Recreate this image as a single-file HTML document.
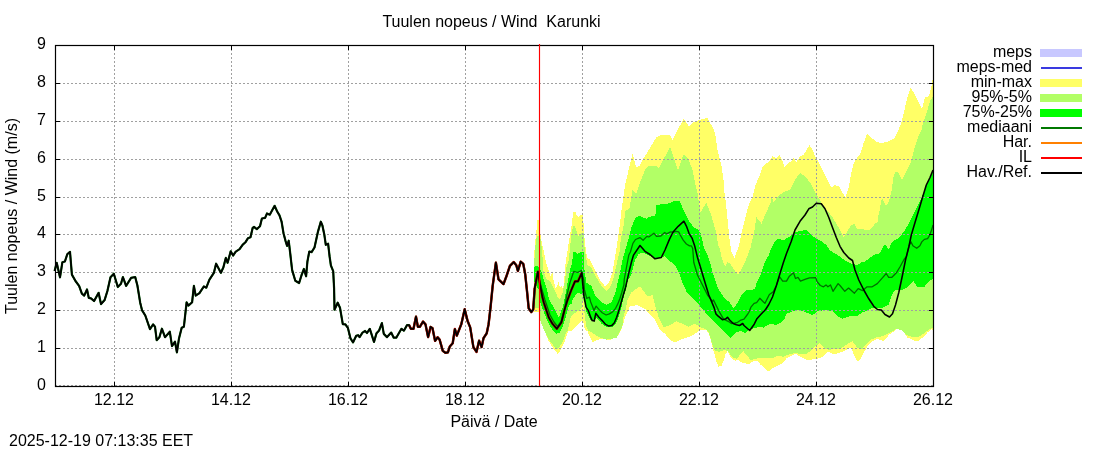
<!DOCTYPE html>
<html><head><meta charset="utf-8"><title>Tuulen nopeus / Wind Karunki</title>
<style>html,body{margin:0;padding:0;background:#fff}svg{display:block}text{font-family:"Liberation Sans",sans-serif;font-size:16px;fill:#000}</style>
</head><body>
<svg width="1100" height="450" viewBox="0 0 1100 450" style="will-change:transform">
<rect width="1100" height="450" fill="#fff"/>
<g shape-rendering="crispEdges">
<polygon points="533.7,261.0 535.0,243.3 536.7,227.8 537.2,220.5 539.0,220.0 540.6,235.6 542.2,244.4 543.9,252.2 545.6,260.0 546.0,262.6 548.5,270.3 550.5,276.0 552.4,272.8 553.6,280.5 555.5,288.1 557.5,285.5 558.7,281.7 560.0,288.1 561.3,285.5 563.2,289.0 564.2,280.5 565.1,267.7 566.1,260.0 567.8,248.9 569.4,238.9 571.1,228.9 572.2,221.1 573.1,212.2 575.6,212.2 576.7,215.6 578.3,217.2 580.6,215.0 582.2,214.4 583.3,217.8 583.9,232.2 585.0,243.3 586.1,252.2 587.2,257.8 590.0,259.5 596.3,272.5 600.0,280.0 605.0,286.3 608.8,282.5 612.5,272.5 615.0,257.5 618.8,232.5 621.3,212.0 625.0,185.0 628.0,172.5 632.5,153.8 636.3,167.5 640.0,165.5 642.5,160.0 648.8,150.0 656.3,137.5 662.5,134.5 670.0,134.5 672.5,140.0 678.8,127.5 683.8,118.8 688.8,126.3 695.0,121.3 701.3,119.5 707.5,118.0 711.3,125.0 715.0,132.5 717.5,150.0 721.3,165.0 723.8,182.5 724.5,193.0 725.9,202.7 727.8,221.8 729.7,240.9 731.5,252.0 734.5,258.5 736.5,252.0 738.6,247.0 741.8,232.0 744.4,221.8 747.5,209.1 750.7,200.2 752.5,197.5 755.5,185.0 758.8,177.5 762.5,167.5 765.0,163.8 768.8,162.0 772.5,156.3 776.3,158.0 779.5,155.0 782.0,160.0 784.5,167.0 787.5,163.8 791.3,161.3 793.8,157.0 796.3,162.5 800.0,156.3 803.8,154.5 809.5,145.0 812.5,150.0 816.3,158.8 818.8,162.0 822.5,170.0 826.3,177.5 831.3,187.5 835.0,185.0 838.8,186.3 842.5,192.5 845.5,197.0 848.8,187.5 851.3,172.5 853.8,163.0 857.5,157.0 860.0,155.0 863.8,142.5 867.0,133.8 871.3,137.5 876.3,142.0 881.3,143.0 887.5,142.0 893.8,138.8 897.5,132.5 901.3,122.5 905.0,107.5 908.0,95.0 910.5,88.0 913.8,92.5 917.5,100.0 922.0,108.8 925.0,97.5 928.8,96.3 931.3,87.5 932.2,82.0 933.5,75.5 933.0,330.0 931.3,328.8 927.5,332.5 922.5,337.5 917.5,341.3 912.5,340.0 907.5,337.5 902.5,330.0 897.5,328.8 893.8,331.3 888.8,335.0 883.8,341.3 877.5,338.8 872.5,341.3 867.5,346.3 863.8,352.5 860.0,360.0 857.5,361.3 853.8,355.0 851.3,347.5 846.3,350.0 840.0,352.5 836.2,353.7 832.4,353.7 828.5,351.8 825.4,353.7 822.2,356.9 817.1,358.8 812.0,359.5 805.6,359.5 800.5,356.9 795.5,353.7 790.4,356.3 786.5,358.2 784.0,362.0 780.2,364.5 776.4,366.5 772.5,368.4 769.4,370.9 766.2,370.3 763.6,367.1 760.5,364.5 757.3,360.7 753.5,360.7 749.6,363.9 744.5,363.3 740.7,362.0 738.2,360.1 735.0,360.7 731.8,358.8 729.3,354.4 727.4,351.2 725.5,354.4 723.5,360.7 721.6,365.8 718.5,366.5 716.5,362.0 714.6,354.4 712.7,348.0 710.8,340.4 708.9,334.0 706.4,330.2 700.0,330.2 697.5,332.0 690.0,336.8 682.5,338.8 676.3,342.0 671.3,341.3 665.0,333.8 660.0,330.0 655.0,320.0 650.0,315.0 645.0,308.8 637.5,305.0 630.0,306.3 625.0,317.5 621.3,330.0 617.5,336.3 610.0,340.0 602.5,338.8 596.3,340.0 592.5,342.5 587.5,331.3 584.8,329.3 583.5,323.0 581.6,321.0 579.7,322.9 577.2,325.5 574.0,328.0 572.1,330.5 568.3,330.5 566.4,336.9 564.5,342.0 561.9,347.1 559.4,352.2 557.5,353.5 554.9,350.9 551.7,345.8 547.9,339.5 544.1,329.3 540.3,316.5 539.5,312.3 533.7,311.5" fill="#ffff66"/>
<polygon points="533.7,264.0 534.4,260.0 535.6,243.3 536.7,236.7 537.8,235.8 539.4,235.8 540.6,238.9 541.7,247.8 542.8,260.0 543.1,269.5 546.0,278.1 550.5,282.4 553.0,286.8 555.5,291.9 557.5,297.0 560.0,298.9 562.5,293.2 563.8,286.8 565.1,279.2 566.4,267.7 568.9,260.0 570.0,246.7 571.1,237.8 572.2,230.0 573.3,226.1 575.0,226.4 576.1,230.0 577.2,233.3 578.3,236.7 580.6,233.9 582.2,232.8 583.6,233.3 583.9,235.6 584.4,246.7 585.6,254.4 586.4,260.0 587.5,265.0 591.3,267.5 595.0,275.0 600.0,283.8 606.3,291.3 610.0,287.5 613.8,277.5 617.5,260.0 619.5,252.0 620.8,239.5 623.4,226.8 625.3,211.5 629.7,207.7 631.6,195.0 632.5,190.0 636.3,193.8 640.0,182.5 645.0,170.0 648.8,165.5 656.3,165.5 658.8,168.8 663.8,158.8 670.0,147.0 673.8,157.5 678.0,170.0 683.8,153.8 688.8,160.0 692.5,170.0 695.0,182.5 697.3,192.0 698.5,200.0 700.5,212.0 702.0,210.0 706.2,202.7 708.5,208.0 711.3,215.5 714.0,225.0 716.4,233.3 718.0,245.0 720.0,249.0 721.0,255.0 724.2,265.2 725.5,266.5 727.4,262.0 729.9,263.3 733.1,268.4 736.3,272.8 738.2,274.1 740.7,270.3 743.3,265.2 745.8,260.1 747.7,255.0 750.7,247.0 753.9,233.3 756.5,217.4 759.0,220.5 761.5,223.7 764.1,217.4 767.3,210.4 770.5,202.7 771.7,196.4 773.6,202.7 776.8,197.6 780.0,194.5 785.0,191.3 790.0,190.0 795.0,180.0 800.0,173.0 805.0,176.3 810.0,182.5 815.0,192.5 820.0,200.0 825.1,208.8 828.9,212.6 832.7,217.7 836.5,224.1 840.4,230.5 843.5,237.5 845.5,234.3 848.6,229.2 851.8,224.7 854.4,224.1 856.9,228.5 862.0,229.2 868.4,230.5 871.5,227.9 874.7,224.1 877.9,221.5 878.8,212.6 880.0,210.0 881.1,200.0 882.8,199.4 885.0,204.4 886.7,205.6 888.9,201.1 891.1,193.3 892.8,182.2 893.9,174.4 895.6,172.2 898.3,172.2 900.0,175.6 902.0,179.8 904.4,175.6 906.7,171.1 908.9,166.7 911.1,161.1 911.9,158.0 913.8,150.4 915.7,144.0 917.6,138.9 919.5,133.8 921.5,130.0 922.5,125.0 926.3,113.8 930.0,101.3 933.0,96.3 933.0,327.5 930.0,328.8 925.0,332.5 920.0,336.3 915.0,337.5 910.0,336.3 905.0,333.8 901.3,330.0 896.3,328.8 892.5,331.3 887.5,333.8 882.5,336.3 876.3,337.5 870.0,340.0 866.3,343.8 862.5,348.8 857.5,348.0 852.5,341.3 847.5,343.8 842.5,347.5 840.0,348.6 834.9,348.6 829.8,349.9 824.7,348.6 822.2,345.5 819.6,342.9 814.5,347.4 809.5,351.8 805.6,354.4 799.3,353.7 794.2,353.1 787.8,355.0 782.7,356.9 778.9,355.6 773.8,357.5 766.2,358.2 758.5,358.2 754.7,358.8 750.9,360.7 747.1,355.6 743.3,351.2 740.1,354.4 736.9,358.8 731.8,356.9 728.6,351.8 725.5,349.9 719.1,351.8 714.6,350.5 712.7,345.5 710.8,339.1 708.9,332.7 705.1,328.9 700.0,327.0 695.0,323.5 688.8,326.8 682.5,323.8 676.3,321.3 670.0,325.0 663.8,327.5 658.8,317.5 655.0,305.0 652.5,295.0 647.5,296.3 643.8,291.3 640.0,286.3 636.3,288.8 631.3,292.5 627.5,300.0 626.8,303.8 625.5,310.2 623.6,316.5 622.4,325.5 620.5,330.5 618.5,334.4 616.6,337.5 611.5,338.8 606.5,339.5 601.4,338.2 597.5,336.3 594.4,334.4 591.2,331.8 588.0,330.5 586.1,325.5 584.8,316.5 583.6,301.0 582.6,301.0 581.6,307.6 579.1,310.2 575.9,312.7 573.4,314.0 570.8,316.5 568.9,325.5 567.6,330.5 565.7,333.1 563.2,340.7 561.3,343.9 558.7,348.4 556.2,349.0 553.6,345.8 550.5,342.0 547.3,336.9 544.1,330.5 542.2,325.5 540.0,319.1 539.0,308.2 533.7,307.5" fill="#b2ff66"/>
<polygon points="533.7,268.0 536.3,265.5 538.8,267.5 541.7,272.3 543.8,279.6 546.7,288.2 548.9,298.4 550.5,302.0 552.4,305.1 554.9,310.2 556.8,314.0 558.7,317.8 560.6,312.7 562.5,307.6 563.8,302.5 564.8,297.0 566.3,290.0 570.0,270.0 572.4,262.0 572.8,252.2 575.6,252.0 577.8,253.9 580.6,252.2 582.8,251.7 583.6,252.2 583.9,260.0 584.2,267.7 586.3,282.5 591.3,286.0 595.0,295.0 600.0,301.0 606.3,305.0 611.3,302.5 615.0,294.0 618.8,278.0 622.5,260.0 627.5,242.5 631.3,227.5 635.0,218.8 638.8,215.5 643.8,218.0 646.4,218.6 648.9,216.7 655.3,216.1 656.5,205.3 662.9,204.0 669.3,203.4 673.7,201.2 680.1,201.5 682.0,206.5 685.8,214.2 689.0,221.2 693.5,226.9 698.5,230.1 700.5,233.3 702.4,240.9 703.8,247.0 708.3,257.0 710.8,265.2 712.7,272.8 715.3,280.5 717.8,288.1 721.0,293.2 724.8,298.3 729.3,302.1 733.7,308.5 738.2,302.1 742.0,294.5 746.5,290.0 754.7,289.4 756.6,283.0 759.8,276.6 761.7,271.5 764.3,263.9 766.8,258.8 769.4,254.0 770.3,250.0 773.8,243.0 777.5,239.0 783.8,240.0 790.0,236.3 795.0,232.5 800.0,231.0 806.3,230.0 811.3,235.0 816.3,238.5 822.5,242.0 826.3,245.0 830.0,250.5 837.5,255.0 845.0,260.5 852.5,264.0 857.5,265.0 862.5,261.5 863.9,262.0 870.9,257.2 874.7,254.6 879.8,253.4 882.4,248.3 884.3,245.1 886.2,245.7 888.7,249.5 891.3,243.2 893.8,240.6 897.6,238.7 901.5,234.9 904.6,230.5 907.8,225.4 910.4,220.3 913.5,213.9 916.7,207.5 920.6,200.0 923.3,193.3 926.7,185.0 929.4,178.9 932.2,172.2 933.0,170.0 933.0,279.0 932.6,279.2 928.2,281.7 924.4,286.8 917.4,286.8 913.5,281.1 910.4,284.3 906.5,288.1 901.5,290.0 896.4,290.0 893.8,291.3 890.6,298.3 888.7,304.6 882.4,307.8 876.3,307.5 870.0,308.8 862.5,312.5 856.3,316.3 850.0,316.3 842.5,318.8 837.5,316.3 832.5,311.3 825.0,310.0 817.5,311.3 812.5,315.0 806.3,312.5 800.0,310.0 792.5,311.3 786.3,314.0 784.0,320.0 781.5,321.9 776.4,325.1 771.3,323.8 767.5,325.1 763.6,327.6 758.5,327.0 754.7,328.3 749.0,328.9 745.2,333.4 740.7,330.8 735.6,332.7 733.1,335.9 730.5,338.5 727.4,334.6 720.4,327.6 712.7,320.5 710.0,318.0 705.0,312.0 700.0,306.0 695.0,301.0 690.0,296.0 686.3,291.3 682.5,282.5 678.8,272.5 675.0,265.0 670.0,261.3 665.0,256.3 657.5,258.8 650.0,256.3 643.8,252.5 638.8,253.8 635.0,260.0 631.3,275.0 628.0,280.0 626.3,287.5 623.0,300.0 621.7,306.4 619.8,312.7 617.9,319.1 615.4,324.2 612.8,326.7 609.0,327.4 605.2,326.1 601.4,323.5 598.8,320.4 596.3,317.8 593.1,321.6 589.9,319.1 586.7,312.7 584.2,300.0 582.5,295.0 577.5,292.5 572.5,300.0 571.5,303.8 568.9,305.1 567.0,312.7 565.1,319.1 562.5,327.4 559.4,333.1 556.2,333.7 553.0,330.5 549.8,325.5 546.6,319.1 544.1,312.7 541.5,306.4 539.6,300.0 538.8,290.0 533.7,281.0" fill="#00ff00"/>
</g>
<path d="M55 385.5H934 M55 348.5H934 M55 310.5H934 M55 272.5H934 M55 234.5H934 M55 197.5H934 M55 159.5H934 M55 121.5H934 M55 83.5H934 M114.5 45V387 M231.5 45V387 M348.5 45V387 M465.5 45V387 M582.5 45V387 M699.5 45V387 M816.5 45V387" stroke="#a0a0a0" stroke-width="1" stroke-dasharray="2 2" fill="none" shape-rendering="crispEdges"/>
<polyline points="54.6,271.0 56.7,262.8 60.0,277.3 62.4,262.2 64.9,261.5 67.3,254.2 70.0,251.8 71.9,274.6 75.5,281.0 79.1,285.9 81.9,293.7 84.2,295.6 87.0,289.5 88.8,297.9 91.0,298.3 94.1,301.0 98.6,292.8 101.0,304.1 104.6,300.1 107.4,291.0 110.5,277.3 113.8,273.7 117.8,287.0 121.0,283.7 122.9,277.0 126.1,285.9 131.1,277.9 135.2,277.0 137.4,285.5 140.2,302.7 142.1,310.4 145.3,315.5 150.0,329.1 153.1,324.4 155.0,326.7 156.7,340.2 159.4,337.2 161.9,328.7 165.0,337.2 169.8,331.7 172.0,346.1 175.0,341.7 176.9,352.4 179.0,338.4 181.7,327.8 183.9,326.7 186.6,302.3 188.4,305.6 192.1,302.3 193.9,285.9 195.7,295.6 199.4,293.2 203.9,286.4 206.3,287.7 209.4,279.7 213.9,272.8 216.1,263.7 220.9,272.8 223.4,267.3 225.8,257.9 227.6,262.8 230.7,251.3 233.1,255.5 235.8,251.6 239.6,249.1 242.8,244.6 245.4,242.3 247.9,238.3 250.5,237.3 252.7,227.8 254.0,226.8 256.8,229.1 260.0,226.2 261.9,218.5 265.1,217.9 267.0,213.5 269.8,214.7 274.6,205.8 277.2,211.5 279.5,215.4 281.6,221.7 283.5,233.2 285.5,240.8 287.1,245.9 288.7,240.7 290.3,254.0 292.1,269.9 295.3,280.7 299.1,283.0 301.6,275.0 303.9,269.0 306.1,276.3 307.4,261.6 309.3,251.5 311.6,252.1 314.5,247.5 317.9,231.9 320.8,221.7 322.4,225.5 324.3,234.5 325.8,244.8 328.1,243.7 329.6,256.5 330.9,265.5 333.2,271.2 334.1,288.4 334.5,309.7 337.7,302.7 340.0,307.8 342.8,324.1 345.4,324.4 347.9,327.9 350.5,338.4 353.0,342.4 356.2,335.8 358.1,335.2 359.6,337.1 362.5,332.6 365.1,331.0 367.0,333.0 369.8,328.8 374.0,341.9 376.5,333.3 379.1,330.5 381.9,323.1 383.8,333.9 387.0,337.1 391.2,332.6 393.7,337.7 396.3,337.7 401.4,328.8 403.9,330.7 407.1,325.0 409.0,325.0 410.9,328.8 413.5,328.8 416.0,316.7 417.9,326.9 419.8,326.9 423.0,321.6 425.5,324.4 428.1,337.1 430.6,326.9 432.5,328.2 435.1,340.9 437.6,337.3 439.6,339.6 442.8,350.9 445.4,352.8 447.9,352.4 449.8,346.5 452.7,343.3 454.9,329.0 456.8,335.6 461.3,324.2 464.7,309.2 467.6,321.0 470.2,327.4 473.4,347.1 476.5,351.9 479.1,340.7 481.6,347.1 483.5,338.2 486.7,333.3 488.6,324.2 490.5,307.6 492.7,285.6 495.9,262.7 498.5,279.3 503.5,284.1 506.7,275.5 509.9,265.9 513.7,262.1 516.3,265.3 517.9,271.0 520.7,261.7 523.3,264.0 525.2,274.2 527.1,292.0 528.7,308.3 531.3,312.1 533.2,309.5 534.7,288.2" fill="none" stroke="#006400" stroke-width="2.2" stroke-linejoin="round"/>
<polyline points="409.0,325.0 410.9,328.8 413.5,328.8 416.0,316.7 417.9,326.9 419.8,326.9 423.0,321.6 425.5,324.4 428.1,337.1 430.6,326.9 432.5,328.2 435.1,340.9 437.6,337.3 439.6,339.6 442.8,350.9 445.4,352.8 447.9,352.4 449.8,346.5 452.7,343.3 454.9,329.0 456.8,335.6 461.3,324.2 464.7,309.2 467.6,321.0 470.2,327.4 473.4,347.1 476.5,351.9 479.1,340.7 481.6,347.1 483.5,338.2 486.7,333.3 488.6,324.2 490.5,307.6 492.7,285.6 495.9,262.7 498.5,279.3 503.5,284.1 506.7,275.5 509.9,265.9 513.7,262.1 516.3,265.3 517.9,271.0 520.7,261.7 523.3,264.0 525.2,274.2 527.1,292.0 528.7,308.3 531.3,312.1 533.2,309.5 534.7,288.2 537.9,271.6 539.8,283.1 542.4,297.1 543.8,302.5 548.8,317.5 552.5,323.8 556.8,328.8 561.3,322.5 565.0,308.0 567.5,300.0 571.3,290.0 575.0,281.3 578.0,281.3 581.8,272.8" fill="none" stroke="#d00000" stroke-width="2.4" stroke-linejoin="round"/>
<polyline points="534.7,288.2 537.9,272.5 540.0,283.0 545.0,300.0 550.0,315.0 554.0,322.0 557.5,326.5 561.5,321.0 565.0,308.0 566.3,297.5 570.0,282.5 573.8,271.3 577.5,272.5 581.3,270.5 583.8,280.0 584.4,289.4 586.7,298.3 589.4,297.2 590.6,301.7 592.8,307.2 593.9,310.6 596.1,306.1 598.9,309.4 602.2,312.8 606.1,315.0 609.4,313.9 612.8,311.7 615.6,308.3 617.8,303.9 620.0,298.3 621.7,292.8 623.9,285.0 624.3,279.0 628.8,255.0 630.4,252.0 632.9,243.4 635.5,239.5 639.9,237.6 643.1,240.2 646.9,236.4 648.8,237.0 653.9,233.2 656.5,236.4 660.9,236.0 664.7,232.5 666.6,233.8 670.5,231.9 673.6,232.2 676.2,231.3 678.7,231.9 680.6,235.7 683.2,240.2 686.4,244.0 689.5,245.9 691.5,245.9 692.7,248.5 693.8,262.5 697.5,275.0 702.5,285.0 707.5,295.0 712.5,301.3 713.5,300.0 716.6,306.4 719.8,312.7 723.6,319.1 728.7,321.6 731.3,323.5 735.1,322.9 737.6,322.3 740.2,320.4 744.0,319.1 747.8,314.0 749.0,312.0 750.9,307.2 754.1,303.4 756.6,302.7 759.8,298.3 764.9,303.4 769.4,294.5 773.2,291.9 776.4,285.5 779.5,276.6 782.7,281.1 786.5,281.1 789.1,276.6 793.5,272.8 795.5,278.5 798.0,277.3 800.5,281.1 805.6,279.2 809.5,277.9 815.8,277.7 817.1,281.7 820.3,285.5 823.5,286.8 826.0,284.9 827.9,286.8 830.5,284.9 833.0,291.3 838.1,283.6 840.0,285.5 844.8,291.3 848.6,288.1 854.4,293.2 858.2,288.7 862.6,290.6 867.1,286.8 872.2,286.8 877.3,283.6 882.4,277.9 886.2,273.5 888.7,277.3 891.9,277.3 896.4,272.8 900.2,266.5 904.0,259.5 906.5,256.3 909.0,246.0 911.0,241.9 912.9,245.7 916.7,248.3 919.9,245.7 921.8,241.9 924.4,239.4 927.6,238.7 929.5,235.5 931.4,230.5 932.6,226.6 933.0,225.0" fill="none" stroke="#007000" stroke-width="1.3" stroke-linejoin="round"/>
<polyline points="54.6,271.0 56.7,262.8 60.0,277.3 62.4,262.2 64.9,261.5 67.3,254.2 70.0,251.8 71.9,274.6 75.5,281.0 79.1,285.9 81.9,293.7 84.2,295.6 87.0,289.5 88.8,297.9 91.0,298.3 94.1,301.0 98.6,292.8 101.0,304.1 104.6,300.1 107.4,291.0 110.5,277.3 113.8,273.7 117.8,287.0 121.0,283.7 122.9,277.0 126.1,285.9 131.1,277.9 135.2,277.0 137.4,285.5 140.2,302.7 142.1,310.4 145.3,315.5 150.0,329.1 153.1,324.4 155.0,326.7 156.7,340.2 159.4,337.2 161.9,328.7 165.0,337.2 169.8,331.7 172.0,346.1 175.0,341.7 176.9,352.4 179.0,338.4 181.7,327.8 183.9,326.7 186.6,302.3 188.4,305.6 192.1,302.3 193.9,285.9 195.7,295.6 199.4,293.2 203.9,286.4 206.3,287.7 209.4,279.7 213.9,272.8 216.1,263.7 220.9,272.8 223.4,267.3 225.8,257.9 227.6,262.8 230.7,251.3 233.1,255.5 235.8,251.6 239.6,249.1 242.8,244.6 245.4,242.3 247.9,238.3 250.5,237.3 252.7,227.8 254.0,226.8 256.8,229.1 260.0,226.2 261.9,218.5 265.1,217.9 267.0,213.5 269.8,214.7 274.6,205.8 277.2,211.5 279.5,215.4 281.6,221.7 283.5,233.2 285.5,240.8 287.1,245.9 288.7,240.7 290.3,254.0 292.1,269.9 295.3,280.7 299.1,283.0 301.6,275.0 303.9,269.0 306.1,276.3 307.4,261.6 309.3,251.5 311.6,252.1 314.5,247.5 317.9,231.9 320.8,221.7 322.4,225.5 324.3,234.5 325.8,244.8 328.1,243.7 329.6,256.5 330.9,265.5 333.2,271.2 334.1,288.4 334.5,309.7 337.7,302.7 340.0,307.8 342.8,324.1 345.4,324.4 347.9,327.9 350.5,338.4 353.0,342.4 356.2,335.8 358.1,335.2 359.6,337.1 362.5,332.6 365.1,331.0 367.0,333.0 369.8,328.8 374.0,341.9 376.5,333.3 379.1,330.5 381.9,323.1 383.8,333.9 387.0,337.1 391.2,332.6 393.7,337.7 396.3,337.7 401.4,328.8 403.9,330.7 407.1,325.0 409.0,325.0 410.9,328.8 413.5,328.8 416.0,316.7 417.9,326.9 419.8,326.9 423.0,321.6 425.5,324.4 428.1,337.1 430.6,326.9 432.5,328.2 435.1,340.9 437.6,337.3 439.6,339.6 442.8,350.9 445.4,352.8 447.9,352.4 449.8,346.5 452.7,343.3 454.9,329.0 456.8,335.6 461.3,324.2 464.7,309.2 467.6,321.0 470.2,327.4 473.4,347.1 476.5,351.9 479.1,340.7 481.6,347.1 483.5,338.2 486.7,333.3 488.6,324.2 490.5,307.6 492.7,285.6 495.9,262.7 498.5,279.3 503.5,284.1 506.7,275.5 509.9,265.9 513.7,262.1 516.3,265.3 517.9,271.0 520.7,261.7 523.3,264.0 525.2,274.2 527.1,292.0 528.7,308.3 531.3,312.1 533.2,309.5 534.7,288.2 537.9,271.6 539.8,283.1 542.4,297.1 543.8,302.5 548.8,317.5 552.5,323.8 556.8,328.8 561.3,322.5 565.0,308.0 567.5,300.0 571.3,290.0 575.0,281.3 578.0,281.3 581.8,272.8 583.9,296.1" fill="none" stroke="#000" stroke-width="1.7" stroke-linejoin="round"/>
<polyline points="583.9,296.1 586.1,307.2 588.3,310.6 590.6,317.2 592.2,320.6 594.2,321.1 595.8,313.3 598.9,317.2 602.2,320.6 605.6,324.4 608.9,326.1 611.7,325.6 614.4,322.8 616.7,317.2 618.9,310.6 621.1,302.8 623.3,295.0 625.6,287.2 629.1,271.6 631.6,261.5 633.5,255.1 640.0,245.5 645.0,251.3 650.0,254.5 655.0,258.8 661.3,257.5 665.0,250.0 669.3,239.6 673.1,232.0 678.2,226.3 683.9,221.2 686.5,226.3 689.0,233.3 692.2,238.4 694.7,246.0 697.5,257.5 701.3,270.0 705.0,282.5 708.8,295.0 714.1,307.6 716.0,314.0 717.9,315.9 722.4,319.7 725.5,319.1 727.5,317.2 729.4,319.7 733.2,323.5 736.4,324.8 739.5,325.5 742.7,323.5 744.0,325.5 749.7,330.5 754.2,324.2 756.7,319.1 761.2,314.0 765.6,309.5 768.8,304.5 772.5,297.0 776.4,285.5 780.2,272.8 783.4,262.6 786.5,253.5 791.3,241.3 795.0,230.0 800.0,221.3 805.0,215.0 808.8,208.8 812.5,207.0 816.3,203.3 821.3,203.8 825.0,208.8 828.8,217.5 832.5,227.5 836.3,237.5 840.0,246.3 843.8,252.5 848.8,258.0 852.5,260.5 855.0,270.0 858.8,280.0 863.8,290.0 868.8,298.8 873.8,306.3 877.5,309.5 881.3,310.0 885.0,314.5 889.5,317.0 892.5,313.8 895.5,305.0 898.8,292.5 902.5,275.0 905.5,260.0 908.8,247.0 911.3,235.0 915.0,222.5 918.8,210.0 922.5,197.5 926.3,185.0 930.0,177.5 933.0,170.0" fill="none" stroke="#000" stroke-width="1.55" stroke-linejoin="round"/>
<path d="M55.5 348.5h4.5M933.5 348.5h-4.5 M55.5 310.5h4.5M933.5 310.5h-4.5 M55.5 272.5h4.5M933.5 272.5h-4.5 M55.5 234.5h4.5M933.5 234.5h-4.5 M55.5 197.5h4.5M933.5 197.5h-4.5 M55.5 159.5h4.5M933.5 159.5h-4.5 M55.5 121.5h4.5M933.5 121.5h-4.5 M55.5 83.5h4.5M933.5 83.5h-4.5 M114.5 386.5v-4.5M114.5 45.5v4.5 M231.5 386.5v-4.5M231.5 45.5v4.5 M348.5 386.5v-4.5M348.5 45.5v4.5 M465.5 386.5v-4.5M465.5 45.5v4.5 M582.5 386.5v-4.5M582.5 45.5v4.5 M699.5 386.5v-4.5M699.5 45.5v4.5 M816.5 386.5v-4.5M816.5 45.5v4.5 M933.5 386.5v-4.5M933.5 45.5v4.5" stroke="#000" stroke-width="1" fill="none" shape-rendering="crispEdges"/>
<rect x="55.5" y="45.5" width="878.0" height="341.0" fill="none" stroke="#000" stroke-width="1.2"/>
<path d="M539.5 44V386" stroke="#ff0000" stroke-width="1.15" fill="none"/>
<text x="491.5" y="27" text-anchor="middle" xml:space="preserve">Tuulen nopeus / Wind  Karunki</text>
<text x="46" y="390.1" text-anchor="end">0</text>
<text x="46" y="352.1" text-anchor="end">1</text>
<text x="46" y="314.1" text-anchor="end">2</text>
<text x="46" y="276.1" text-anchor="end">3</text>
<text x="46" y="238.1" text-anchor="end">4</text>
<text x="46" y="201.1" text-anchor="end">5</text>
<text x="46" y="163.1" text-anchor="end">6</text>
<text x="46" y="125.1" text-anchor="end">7</text>
<text x="46" y="87.1" text-anchor="end">8</text>
<text x="46" y="49.1" text-anchor="end">9</text>
<text x="114.0" y="405" text-anchor="middle">12.12</text>
<text x="231.0" y="405" text-anchor="middle">14.12</text>
<text x="348.0" y="405" text-anchor="middle">16.12</text>
<text x="465.0" y="405" text-anchor="middle">18.12</text>
<text x="582.0" y="405" text-anchor="middle">20.12</text>
<text x="699.0" y="405" text-anchor="middle">22.12</text>
<text x="816.0" y="405" text-anchor="middle">24.12</text>
<text x="933.0" y="405" text-anchor="middle">26.12</text>
<text x="494" y="427" text-anchor="middle">Päivä / Date</text>
<text x="9" y="446">2025-12-19 07:13:35 EET</text>
<text transform="translate(17,216) rotate(-90)" text-anchor="middle">Tuulen nopeus / Wind (m/s)</text>
<text x="1032" y="57.0" text-anchor="end">meps</text>
<rect x="1040" y="49.0" width="42" height="8" fill="#c8c8ff" shape-rendering="crispEdges"/>
<text x="1032" y="72.0" text-anchor="end">meps-med</text>
<path d="M1041 68.0H1082" stroke="#3a3ae0" stroke-width="2" fill="none" shape-rendering="crispEdges"/>
<text x="1032" y="87.0" text-anchor="end">min-max</text>
<rect x="1040" y="79.0" width="42" height="8" fill="#ffff66" shape-rendering="crispEdges"/>
<text x="1032" y="102.0" text-anchor="end">95%-5%</text>
<rect x="1040" y="94.0" width="42" height="8" fill="#b2ff66" shape-rendering="crispEdges"/>
<text x="1032" y="117.0" text-anchor="end">75%-25%</text>
<rect x="1040" y="109.0" width="42" height="8" fill="#00ff00" shape-rendering="crispEdges"/>
<text x="1032" y="132.0" text-anchor="end">mediaani</text>
<path d="M1041 128.0H1082" stroke="#007800" stroke-width="2" fill="none" shape-rendering="crispEdges"/>
<text x="1032" y="147.0" text-anchor="end">Har.</text>
<path d="M1041 143.0H1082" stroke="#ff8000" stroke-width="2" fill="none" shape-rendering="crispEdges"/>
<text x="1032" y="162.0" text-anchor="end">IL</text>
<path d="M1041 158.0H1082" stroke="#ff0000" stroke-width="2" fill="none" shape-rendering="crispEdges"/>
<text x="1032" y="177.0" text-anchor="end">Hav./Ref.</text>
<path d="M1041 173.0H1082" stroke="#000000" stroke-width="2" fill="none" shape-rendering="crispEdges"/>
</svg></body></html>
